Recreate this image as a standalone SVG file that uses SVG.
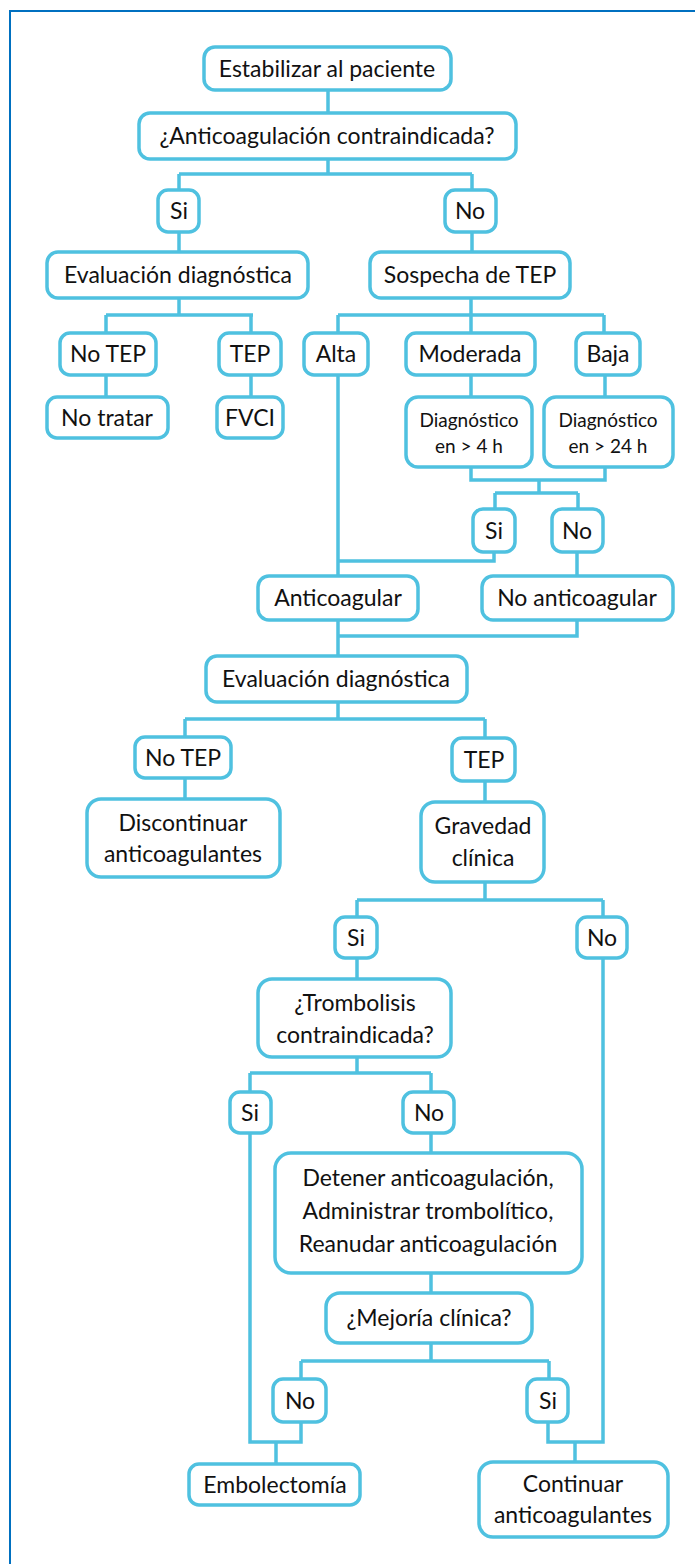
<svg xmlns="http://www.w3.org/2000/svg" width="695" height="1564" viewBox="0 0 695 1564">
<style>
.n{fill:#fff;stroke:#4FC1E0;stroke-width:3.5}
.c{fill:none;stroke:#4FC1E0;stroke-width:3.5;stroke-linejoin:miter}
text{font-family:Lato,"Open Sans","Liberation Sans",sans-serif;font-size:23px;fill:#111;text-anchor:middle}
.s{font-size:19px}
</style>
<rect x="10" y="11" width="720" height="1600" fill="#fff" stroke="#0070C0" stroke-width="2"/>
<g id="connectors">
<path class="c" d="M328 90V113M328 159V174M179 174H472M179 174V190M472 174V190"/>
<path class="c" d="M179 232V252M472 232V252"/>
<path class="c" d="M179 298V315M106 315H253M106 315V333M251 315V333M106 375V397M251 375V397"/>
<path class="c" d="M471 298V315M338 315H604M338 315V333M471 315V333M604 315V333"/>
<path class="c" d="M471 375V397M605 375V397M471 467V480H605V467M539 480V493M495 493H578M495 493V509M578 493V509"/>
<path class="c" d="M338 375V576M494 552V561H338M577 552V576"/>
<path class="c" d="M338 620V656M577 620V636H338"/>
<path class="c" d="M338 702V719M185 719H485M185 719V737M485 719V738M185 778V799M485 781V802"/>
<path class="c" d="M485 882V900M357 900H603M357 900V917M603 900V917M357 958V979M603 958V1442H548V1422M575 1442V1462"/>
<path class="c" d="M357 1057V1073M250 1073H431M250 1073V1092M431 1073V1092M431 1133V1153M250 1133V1442H301V1422M276 1442V1464"/>
<path class="c" d="M431 1273V1293M431 1343V1361M301 1361H549M301 1361V1379M549 1361V1379"/>
</g>
<g id="n1"><rect class="n" x="204" y="47" width="247" height="43" rx="11"/><text x="327" y="77">Estabilizar al paciente</text></g>
<g id="n2"><rect class="n" x="139" y="113" width="377" height="46" rx="11"/><text x="327" y="144">¿Anticoagulación contraindicada?</text></g>
<g id="n3"><rect class="n" x="158" y="190" width="41" height="42" rx="10"/><text x="179" y="219">Si</text></g>
<g id="n4"><rect class="n" x="445" y="190" width="51" height="42" rx="10"/><text x="470" y="219">No</text></g>
<g id="n5"><rect class="n" x="47" y="252" width="261" height="46" rx="11"/><text x="178" y="283">Evaluación diagnóstica</text></g>
<g id="n6"><rect class="n" x="370" y="252" width="200" height="46" rx="11"/><text x="470" y="283">Sospecha de TEP</text></g>
<g id="n7"><rect class="n" x="60" y="333" width="96" height="42" rx="10"/><text x="108" y="362">No TEP</text></g>
<g id="n8"><rect class="n" x="219" y="333" width="62" height="42" rx="10"/><text x="250" y="362">TEP</text></g>
<g id="n9"><rect class="n" x="47" y="397" width="121" height="41" rx="10"/><text x="107" y="426">No tratar</text></g>
<g id="n10"><rect class="n" x="217" y="397" width="66" height="41" rx="10"/><text x="250" y="426">FVCI</text></g>
<g id="n11"><rect class="n" x="304" y="333" width="64" height="42" rx="10"/><text x="336" y="362">Alta</text></g>
<g id="n12"><rect class="n" x="406" y="333" width="129" height="42" rx="10"/><text x="470" y="362">Moderada</text></g>
<g id="n13"><rect class="n" x="576" y="333" width="64" height="42" rx="10"/><text x="608" y="362">Baja</text></g>
<g id="n14"><rect class="n" x="406" y="397" width="126" height="70" rx="12"/><text class="s" x="469" y="427">Diagnóstico</text><text class="s" x="469" y="453">en &gt; 4 h</text></g>
<g id="n15"><rect class="n" x="544" y="397" width="129" height="70" rx="12"/><text class="s" x="608" y="427">Diagnóstico</text><text class="s" x="608" y="453">en &gt; 24 h</text></g>
<g id="n16"><rect class="n" x="473" y="509" width="42" height="43" rx="10"/><text x="494" y="539">Si</text></g>
<g id="n17"><rect class="n" x="552" y="509" width="51" height="43" rx="10"/><text x="577" y="539">No</text></g>
<g id="n18"><rect class="n" x="258" y="576" width="160" height="44" rx="11"/><text x="338" y="606">Anticoagular</text></g>
<g id="n19"><rect class="n" x="482" y="576" width="191" height="44" rx="11"/><text x="577" y="606">No anticoagular</text></g>
<g id="n20"><rect class="n" x="206" y="656" width="261" height="46" rx="11"/><text x="336" y="687">Evaluación diagnóstica</text></g>
<g id="n21"><rect class="n" x="135" y="737" width="96" height="41" rx="10"/><text x="183" y="766">No TEP</text></g>
<g id="n22"><rect class="n" x="452" y="738" width="63" height="43" rx="10"/><text x="484" y="768">TEP</text></g>
<g id="n23"><rect class="n" x="87" y="799" width="193" height="78" rx="14"/><text x="183" y="831">Discontinuar</text><text x="183" y="862">anticoagulantes</text></g>
<g id="n24"><rect class="n" x="421" y="802" width="123" height="80" rx="14"/><text x="483" y="834">Gravedad</text><text x="483" y="866">clínica</text></g>
<g id="n25"><rect class="n" x="335" y="917" width="42" height="41" rx="10"/><text x="356" y="946">Si</text></g>
<g id="n26"><rect class="n" x="577" y="917" width="50" height="41" rx="10"/><text x="602" y="946">No</text></g>
<g id="n27"><rect class="n" x="258" y="979" width="193" height="78" rx="14"/><text x="355" y="1011">¿Trombolisis</text><text x="355" y="1043">contraindicada?</text></g>
<g id="n28"><rect class="n" x="230" y="1092" width="41" height="41" rx="10"/><text x="250" y="1121">Si</text></g>
<g id="n29"><rect class="n" x="403" y="1092" width="51" height="41" rx="10"/><text x="429" y="1121">No</text></g>
<g id="n30"><rect class="n" x="275" y="1153" width="307" height="120" rx="16"/><text x="428" y="1186">Detener anticoagulación,</text><text x="428" y="1219">Administrar trombolítico,</text><text x="428" y="1252">Reanudar anticoagulación</text></g>
<g id="n31"><rect class="n" x="326" y="1293" width="206" height="50" rx="14"/><text x="429" y="1326">¿Mejoría clínica?</text></g>
<g id="n32"><rect class="n" x="273" y="1379" width="53" height="43" rx="10"/><text x="300" y="1409">No</text></g>
<g id="n33"><rect class="n" x="527" y="1379" width="41" height="43" rx="10"/><text x="548" y="1409">Si</text></g>
<g id="n34"><rect class="n" x="189" y="1464" width="171" height="41" rx="10"/><text x="275" y="1493">Embolectomía</text></g>
<g id="n35"><rect class="n" x="479" y="1462" width="189" height="75" rx="14"/><text x="573" y="1492">Continuar</text><text x="573" y="1523">anticoagulantes</text></g>
</svg>
